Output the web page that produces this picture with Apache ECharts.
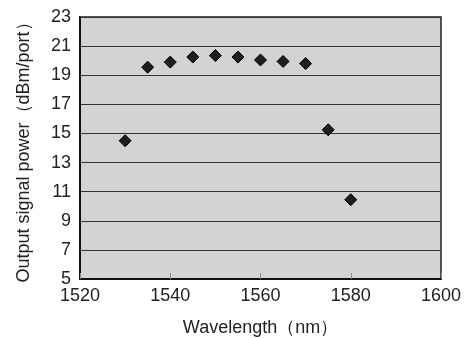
<!DOCTYPE html>
<html>
<head>
<meta charset="utf-8">
<script src="https://cdn.jsdelivr.net/npm/echarts@6/dist/echarts.min.js"></script>
<style>html,body{margin:0;padding:0;background:#fff}#c{width:470px;height:338px}</style>
</head>
<body>
<div id="c"></div>
<script>
const wavelengths = [1530, 1535, 1540, 1545, 1550, 1555, 1560, 1565, 1570, 1575, 1580];
const powers = [14.5, 19.55, 19.9, 20.25, 20.35, 20.25, 20.05, 19.95, 19.8, 15.25, 10.45];
const xTitle = 'Wavelength（nm）';
const yTitle = 'Output signal power（dBm/port）';

const chart = echarts.init(document.getElementById('c'), null, {renderer: 'canvas'});
const font = 'Liberation Sans, Arial, sans-serif';
chart.setOption({
  animation: false,
  backgroundColor: '#fff',
  grid: {left: 80, top: 17, right: 29, bottom: 59, outerBoundsMode: 'none', containLabel: false,
         show: true, backgroundColor: '#d3d3d3', borderColor: '#222', borderWidth: 1.5},
  xAxis: {
    type: 'value', min: 1520, max: 1600, interval: 20,
    name: xTitle, nameLocation: 'middle', nameGap: 40,
    nameTextStyle: {fontFamily: font, fontSize: 18, color: '#222'},
    axisLine: {show: true, lineStyle: {color: '#111', width: 2}},
    axisTick: {show: true, inside: true, length: 6, lineStyle: {color: '#888', width: 1}},
    axisLabel: {fontFamily: font, fontSize: 18, color: '#222', margin: 8, formatter: v => String(v)},
    splitLine: {show: false}
  },
  yAxis: {
    type: 'value', min: 5, max: 23, interval: 2,
    name: yTitle, nameLocation: 'middle', nameGap: 47,
    nameTextStyle: {fontFamily: font, fontSize: 18, color: '#222'},
    axisLine: {show: true, lineStyle: {color: '#111', width: 2}},
    axisTick: {show: false},
    axisLabel: {fontFamily: font, fontSize: 18, color: '#222', margin: 9},
    splitLine: {show: true, lineStyle: {color: '#333', width: 1}}
  },
  series: [{
    type: 'scatter',
    data: wavelengths.map((w, i) => [w, powers[i]]),
    symbol: 'diamond', symbolSize: 12,
    itemStyle: {color: '#1e1e1e', borderColor: '#000', borderWidth: 1, opacity: 1}
  }]
});
</script>
</body>
</html>
